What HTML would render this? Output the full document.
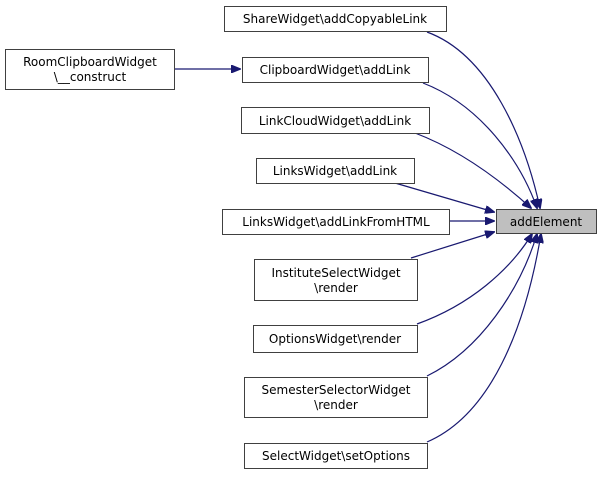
<!DOCTYPE html>
<html><head><style>
html,body{margin:0;padding:0;background:#fff;}
svg text{font-family:"DejaVu Sans","Liberation Sans",sans-serif;font-size:12px;fill:#000;}
</style></head><body>
<svg width="601" height="475" viewBox="0 0 601 475" xmlns="http://www.w3.org/2000/svg">
<defs><marker id="a" markerWidth="10" markerHeight="8" refX="9" refY="4" orient="auto" markerUnits="userSpaceOnUse"><path d="M0,0 L10,4 L0,8 z" fill="#191970" stroke="#191970"/></marker></defs>
<g fill="none" stroke="#191970" stroke-width="1.2" marker-end="url(#a)">
<path d="M427,32 C490,55 525,140 540,208"/>
<path d="M174,69 L240,69"/>
<path d="M423,83 C480,105 520,160 537,208"/>
<path d="M415,133 C460,150 500,180 531,208"/>
<path d="M395,183 L494,212"/>
<path d="M449,221 L494,221"/>
<path d="M411,258 L494,232"/>
<path d="M417,324 C470,305 510,270 532,234"/>
<path d="M427,376 C480,350 520,290 537,234"/>
<path d="M427,442 C490,415 525,330 541,234"/>
</g>
<g fill="#fff" stroke="#404040" stroke-width="1">
<rect x="224.5" y="6.5" width="222" height="25"/>
<rect x="5.5" y="49.5" width="169" height="40"/>
<rect x="242.5" y="57.5" width="186" height="25"/>
<rect x="241.5" y="107.5" width="188" height="26"/>
<rect x="256.5" y="158.5" width="158" height="25"/>
<rect x="222.5" y="209.5" width="227" height="25"/>
<rect x="496.5" y="209.5" width="100" height="24" fill="#bfbfbf"/>
<rect x="254.5" y="259.5" width="163" height="41"/>
<rect x="253.5" y="325.5" width="164" height="27"/>
<rect x="244.5" y="377.5" width="183" height="40"/>
<rect x="244.5" y="443.5" width="183" height="25"/>
</g>
<g text-anchor="middle">
<text x="335" y="23">ShareWidget\addCopyableLink</text>
<text x="90" y="66">RoomClipboardWidget</text>
<text x="90" y="81">\__construct</text>
<text x="335" y="74">ClipboardWidget\addLink</text>
<text x="335" y="125">LinkCloudWidget\addLink</text>
<text x="335" y="175">LinksWidget\addLink</text>
<text x="336" y="226">LinksWidget\addLinkFromHTML</text>
<text x="546" y="226">addElement</text>
<text x="336" y="277">InstituteSelectWidget</text>
<text x="336" y="292">\render</text>
<text x="335" y="343">OptionsWidget\render</text>
<text x="336" y="394">SemesterSelectorWidget</text>
<text x="336" y="409">\render</text>
<text x="336" y="460">SelectWidget\setOptions</text>
</g>
</svg>
</body></html>
